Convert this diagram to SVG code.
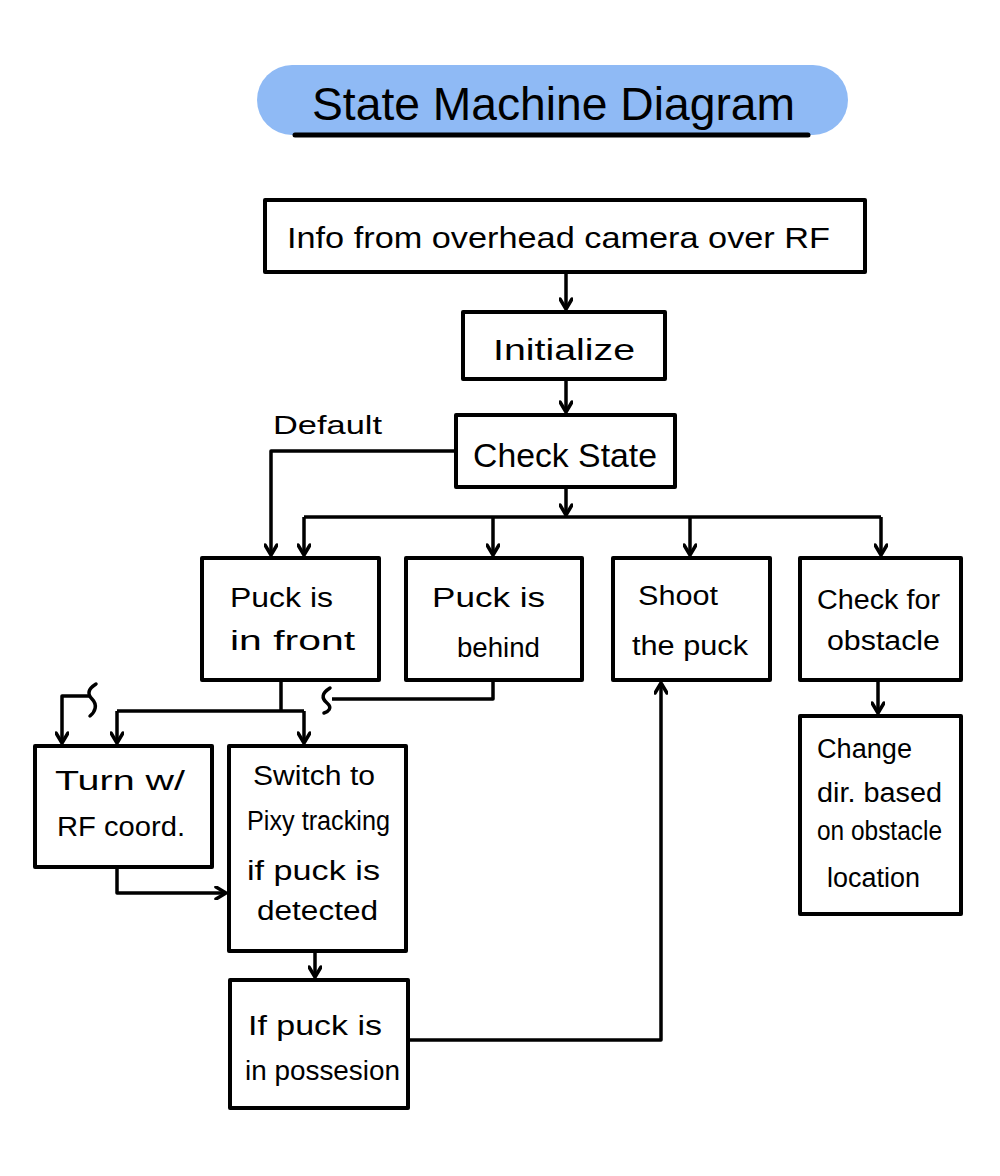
<svg xmlns="http://www.w3.org/2000/svg" width="1000" height="1176" viewBox="0 0 1000 1176">
<style>
.box{fill:#fff;stroke:#000;stroke-width:4;stroke-linejoin:round}
.t{font-family:"Liberation Sans","DejaVu Sans",sans-serif;fill:#000}
.c{fill:none;stroke:#000;stroke-width:3.5;stroke-linejoin:round}
</style>
<defs>
<marker id="ah" viewBox="0 0 14 14" refX="12" refY="7" markerWidth="14" markerHeight="14" markerUnits="userSpaceOnUse" orient="auto">
<path d="M2,1 L12,7 L2,13" fill="none" stroke="#000" stroke-width="3.5" stroke-linecap="round" stroke-linejoin="round"/>
</marker>
</defs>
<rect width="1000" height="1176" fill="#fff"/>
<g id="title">
<rect x="257" y="65" width="591" height="70" rx="35" fill="#8fbaf5"/>
<line x1="295" y1="135" x2="808" y2="135" stroke="#000" stroke-width="5" stroke-linecap="round"/>
<text class="t" x="312" y="120" font-size="46" textLength="483" lengthAdjust="spacingAndGlyphs">State Machine Diagram</text>
</g>
<g id="connectors">
<path class="c" d="M566,272 V309" marker-end="url(#ah)"/>
<path class="c" d="M566,379 V412" marker-end="url(#ah)"/>
<path class="c" d="M456,451 H271 V555" marker-end="url(#ah)"/>
<path class="c" d="M566,487 V515" marker-end="url(#ah)"/>
<path class="c" d="M304,517 H881"/>
<path class="c" d="M304,517 V555" marker-end="url(#ah)"/>
<path class="c" d="M493,517 V555" marker-end="url(#ah)"/>
<path class="c" d="M690,517 V555" marker-end="url(#ah)"/>
<path class="c" d="M881,517 V555" marker-end="url(#ah)"/>
<path class="c" d="M878,680 V713" marker-end="url(#ah)"/>
<path class="c" d="M281,680 V711"/>
<path class="c" d="M117,711 H304"/>
<path class="c" d="M117,711 V743" marker-end="url(#ah)"/>
<path class="c" d="M304,711 V743" marker-end="url(#ah)"/>
<path class="c" d="M493,680 V699 H332"/>
<path class="c" d="M330,688 C322,693 321,698 327,703 C333,708 328,712 324,713" stroke-linecap="round"/>
<path class="c" d="M96,684 C88,689 87,694 92,699 C98,705 95,712 90,716" stroke-linecap="round"/>
<path class="c" d="M89,696 H62 V743" marker-end="url(#ah)"/>
<path class="c" d="M117,867 V893 H226" marker-end="url(#ah)"/>
<path class="c" d="M315,951 V977" marker-end="url(#ah)"/>
<path class="c" d="M408,1040 H661 V683" marker-end="url(#ah)"/>
</g>
<g id="n_info"><rect class="box" x="265" y="200" width="600" height="72"/>
<text class="t" x="287" y="248" font-size="30" textLength="543" lengthAdjust="spacingAndGlyphs">Info from overhead camera over RF</text></g>
<g id="n_init"><rect class="box" x="463" y="312" width="202" height="67"/>
<text class="t" x="493" y="360" font-size="30" textLength="142" lengthAdjust="spacingAndGlyphs">Initialize</text></g>
<g id="n_check"><rect class="box" x="456" y="415" width="219" height="72"/>
<text class="t" x="473" y="467" font-size="34" textLength="184" lengthAdjust="spacingAndGlyphs">Check State</text></g>
<g id="l_default"><text class="t" x="273" y="434" font-size="26" textLength="109" lengthAdjust="spacingAndGlyphs">Default</text></g>
<g id="n_front"><rect class="box" x="202" y="558" width="177" height="122"/>
<text class="t" x="230" y="607" font-size="27" textLength="103" lengthAdjust="spacingAndGlyphs">Puck is</text>
<text class="t" x="230" y="650" font-size="27" textLength="125" lengthAdjust="spacingAndGlyphs">in front</text></g>
<g id="n_behind"><rect class="box" x="406" y="558" width="176" height="122"/>
<text class="t" x="432" y="607" font-size="27" textLength="113" lengthAdjust="spacingAndGlyphs">Puck is</text>
<text class="t" x="457" y="657" font-size="27" textLength="83" lengthAdjust="spacingAndGlyphs">behind</text></g>
<g id="n_shoot"><rect class="box" x="613" y="558" width="157" height="122"/>
<text class="t" x="638" y="605" font-size="27" textLength="80" lengthAdjust="spacingAndGlyphs">Shoot</text>
<text class="t" x="632" y="655" font-size="27" textLength="116" lengthAdjust="spacingAndGlyphs">the puck</text></g>
<g id="n_obstacle"><rect class="box" x="800" y="558" width="161" height="122"/>
<text class="t" x="817" y="609" font-size="27" textLength="123" lengthAdjust="spacingAndGlyphs">Check for</text>
<text class="t" x="827" y="650" font-size="27" textLength="113" lengthAdjust="spacingAndGlyphs">obstacle</text></g>
<g id="n_change"><rect class="box" x="800" y="716" width="161" height="198"/>
<text class="t" x="817" y="758" font-size="27" textLength="95" lengthAdjust="spacingAndGlyphs">Change</text>
<text class="t" x="817" y="802" font-size="27" textLength="125" lengthAdjust="spacingAndGlyphs">dir. based</text>
<text class="t" x="817" y="840" font-size="27" textLength="125" lengthAdjust="spacingAndGlyphs">on obstacle</text>
<text class="t" x="827" y="887" font-size="27" textLength="93" lengthAdjust="spacingAndGlyphs">location</text></g>
<g id="n_turn"><rect class="box" x="35" y="746" width="177" height="121"/>
<text class="t" x="55" y="790" font-size="27" textLength="130" lengthAdjust="spacingAndGlyphs">Turn w/</text>
<text class="t" x="57" y="836" font-size="27" textLength="128" lengthAdjust="spacingAndGlyphs">RF coord.</text></g>
<g id="n_switch"><rect class="box" x="229" y="746" width="177" height="205"/>
<text class="t" x="253" y="785" font-size="27" textLength="122" lengthAdjust="spacingAndGlyphs">Switch to</text>
<text class="t" x="247" y="830" font-size="27" textLength="143" lengthAdjust="spacingAndGlyphs">Pixy tracking</text>
<text class="t" x="247" y="880" font-size="27" textLength="133" lengthAdjust="spacingAndGlyphs">if puck is</text>
<text class="t" x="257" y="920" font-size="27" textLength="121" lengthAdjust="spacingAndGlyphs">detected</text></g>
<g id="n_possess"><rect class="box" x="230" y="980" width="178" height="128"/>
<text class="t" x="248" y="1035" font-size="27" textLength="134" lengthAdjust="spacingAndGlyphs">If puck is</text>
<text class="t" x="245" y="1080" font-size="27" textLength="155" lengthAdjust="spacingAndGlyphs">in possesion</text></g>
</svg>
